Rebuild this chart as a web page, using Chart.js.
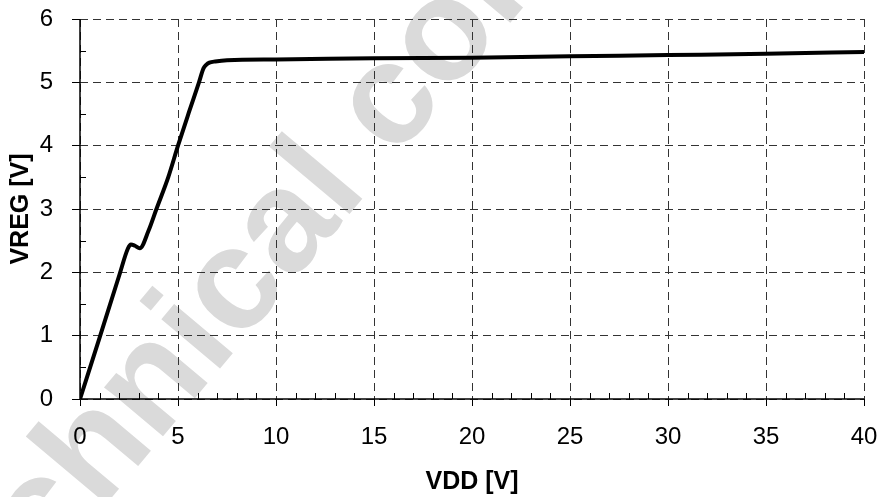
<!DOCTYPE html>
<html>
<head>
<meta charset="utf-8">
<script src="https://cdn.jsdelivr.net/npm/chart.js@4/dist/chart.umd.min.js"></script>
<style>
  html, body { margin: 0; padding: 0; background: #fff; }
  #wrap { width: 882px; height: 497px; position: relative; }
</style>
</head>
<body>
<div id="wrap"><canvas id="chart"></canvas></div>
<script>
// VREG vs VDD curve
const vdd  = [0, 1.0, 2.0, 2.45, 2.6, 2.8, 3.05, 3.5, 3.9, 4.5, 5.0, 5.55, 6.07, 6.3, 6.45, 6.6, 6.9, 7.5, 10, 15, 20, 25, 30, 35, 40];
const vreg = [0, 0.97, 1.95, 2.38, 2.44, 2.42, 2.38, 2.66, 3.0, 3.5, 4.0, 4.52, 5.0, 5.22, 5.28, 5.31, 5.33, 5.35, 5.36, 5.38, 5.39, 5.41, 5.43, 5.45, 5.48];

const xTicks = [0, 5, 10, 15, 20, 25, 30, 35, 40];
const yTicks = [0, 1, 2, 3, 4, 5, 6];

const FONT = 'Arial, "Liberation Sans", sans-serif';

// light grey watermark behind the plot
const watermark = {
  id: 'watermark',
  beforeDraw(chart) {
    const ctx = chart.ctx;
    ctx.save();
    ctx.translate(-54, 695);
    ctx.rotate(-50 * Math.PI / 180);
    ctx.fillStyle = '#dadada';
    ctx.font = 'bold 145px ' + FONT;
    ctx.textBaseline = 'alphabetic';
    ctx.fillText('Technical content', 0, 0);
    ctx.restore();
  }
};

// solid axis lines plus the small inside ticks between labelled ones
const axesAndMinor = {
  id: 'axesAndMinor',
  afterDraw(chart) {
    const ctx = chart.ctx;
    const x = chart.scales.x, y = chart.scales.y;
    const area = chart.chartArea;
    ctx.save();
    ctx.strokeStyle = '#000';
    ctx.lineWidth = 1.5;
    ctx.beginPath();
    ctx.moveTo(area.left, area.top);
    ctx.lineTo(area.left, area.bottom);
    ctx.lineTo(area.right, area.bottom);
    ctx.stroke();
    ctx.lineWidth = 1;
    ctx.beginPath();
    for (let v = 1; v < 40; v++) {
      if (v % 5 === 0) continue;
      const px = Math.round(x.getPixelForValue(v)) + 0.5;
      ctx.moveTo(px, area.bottom);
      ctx.lineTo(px, area.bottom - 6);
    }
    for (let v = 0.5; v < 6; v += 1) {
      const py = Math.round(y.getPixelForValue(v)) + 0.5;
      ctx.moveTo(area.left, py);
      ctx.lineTo(area.left + 6, py);
    }
    ctx.stroke();
    ctx.restore();
  }
};

new Chart(document.getElementById('chart'), {
  type: 'line',
  data: {
    datasets: [{
      data: vdd.map((v, i) => ({ x: v, y: vreg[i] })),
      borderColor: '#000',
      borderWidth: 4,
      pointRadius: 0,
      cubicInterpolationMode: 'monotone',
      borderJoinStyle: 'round',
      fill: false
    }]
  },
  options: {
    responsive: true,
    maintainAspectRatio: false,
    animation: false,
    layout: { padding: { top: 19, right: 18, left: 0, bottom: 0 } },
    plugins: { legend: { display: false }, tooltip: { enabled: false } },
    scales: {
      x: {
        type: 'linear',
        min: 0, max: 40,
        afterBuildTicks: s => { s.ticks = xTicks.map(v => ({ value: v })); },
        afterFit: s => { s.height = 98; s.paddingLeft = 0; s.paddingRight = 0; },
        border: { display: false, dash: [8, 5] },
        grid: {
          color: '#333', lineWidth: 1,
          tickLength: 7, tickColor: '#000', tickBorderDash: []
        },
        ticks: { color: '#000', font: { family: FONT, size: 24 }, padding: 17, maxRotation: 0 },
        title: {
          display: true, text: 'VDD [V]', color: '#000',
          font: { family: FONT, size: 25, weight: 'bold' },
          padding: { top: 1, bottom: 0 }
        }
      },
      y: {
        type: 'linear',
        min: 0, max: 6,
        afterBuildTicks: s => { s.ticks = yTicks.map(v => ({ value: v })); },
        afterFit: s => { s.width = 80; s.paddingTop = 0; s.paddingBottom = 0; },
        border: { display: false, dash: [8, 5] },
        grid: {
          color: '#333', lineWidth: 1,
          tickLength: 8, tickColor: '#000', tickBorderDash: []
        },
        ticks: { color: '#000', font: { family: FONT, size: 24 }, padding: 19 },
        title: {
          display: true, text: 'VREG [V]', color: '#000',
          font: { family: FONT, size: 25, weight: 'bold' },
          padding: { top: 6, bottom: 0 }
        }
      }
    }
  },
  plugins: [watermark, axesAndMinor]
});
</script>
</body>
</html>
